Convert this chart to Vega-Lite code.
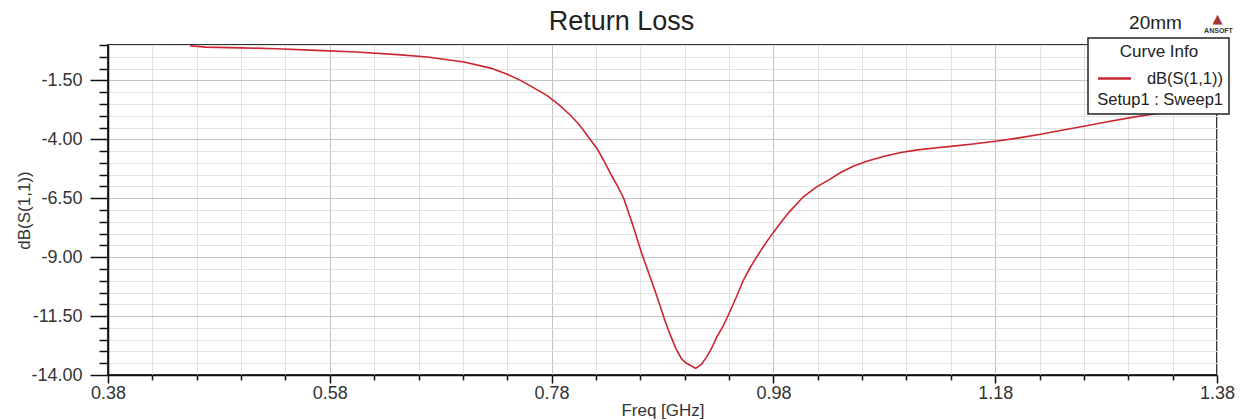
{
  "$schema": "https://vega.github.io/schema/vega-lite/v6.json",
  "width": 1109,
  "height": 330,
  "autosize": {"type": "none"},
  "padding": {"left": 108, "top": 45, "right": 25, "bottom": 45},
  "background": "white",
  "title": {"text": "Return Loss", "fontSize": 27, "font": "Liberation Sans", "fontWeight": "normal", "color": "#222", "anchor": "middle", "frame": "group", "dx": -41, "offset": 8, "dy": 32},
  "config": {
    "view": {"stroke": "#333", "strokeWidth": 2},
    "legend": {"strokeWidth": 1.5}
  },
  "resolve": {"axis": {"x": "independent", "y": "independent"}},
  "data": {"values": [
    {"freq": 0.454, "db": -0.03}, {"freq": 0.468, "db": -0.09}, {"freq": 0.500, "db": -0.12}, {"freq": 0.532, "db": -0.16},
    {"freq": 0.568, "db": -0.23}, {"freq": 0.604, "db": -0.30}, {"freq": 0.641, "db": -0.41}, {"freq": 0.668, "db": -0.51},
    {"freq": 0.701, "db": -0.72}, {"freq": 0.725, "db": -0.98}, {"freq": 0.740, "db": -1.24}, {"freq": 0.752, "db": -1.50},
    {"freq": 0.764, "db": -1.82}, {"freq": 0.776, "db": -2.15}, {"freq": 0.787, "db": -2.55}, {"freq": 0.797, "db": -2.98},
    {"freq": 0.805, "db": -3.38}, {"freq": 0.812, "db": -3.83}, {"freq": 0.821, "db": -4.40}, {"freq": 0.827, "db": -4.90},
    {"freq": 0.833, "db": -5.45}, {"freq": 0.839, "db": -5.95}, {"freq": 0.845, "db": -6.50}, {"freq": 0.853, "db": -7.60},
    {"freq": 0.861, "db": -8.80}, {"freq": 0.867, "db": -9.60}, {"freq": 0.872, "db": -10.26}, {"freq": 0.877, "db": -10.95},
    {"freq": 0.882, "db": -11.67}, {"freq": 0.887, "db": -12.30}, {"freq": 0.892, "db": -12.87}, {"freq": 0.897, "db": -13.30},
    {"freq": 0.901, "db": -13.48}, {"freq": 0.906, "db": -13.62}, {"freq": 0.910, "db": -13.72}, {"freq": 0.915, "db": -13.55},
    {"freq": 0.920, "db": -13.22}, {"freq": 0.925, "db": -12.80}, {"freq": 0.929, "db": -12.38}, {"freq": 0.935, "db": -11.90},
    {"freq": 0.940, "db": -11.39}, {"freq": 0.947, "db": -10.65}, {"freq": 0.953, "db": -9.97}, {"freq": 0.959, "db": -9.45},
    {"freq": 0.965, "db": -8.99}, {"freq": 0.971, "db": -8.55}, {"freq": 0.977, "db": -8.14}, {"freq": 0.986, "db": -7.57},
    {"freq": 0.994, "db": -7.10}, {"freq": 1.007, "db": -6.44}, {"freq": 1.019, "db": -6.02}, {"freq": 1.030, "db": -5.72},
    {"freq": 1.041, "db": -5.40}, {"freq": 1.053, "db": -5.12}, {"freq": 1.065, "db": -4.92}, {"freq": 1.080, "db": -4.72},
    {"freq": 1.095, "db": -4.56}, {"freq": 1.110, "db": -4.45}, {"freq": 1.125, "db": -4.37}, {"freq": 1.140, "db": -4.30},
    {"freq": 1.160, "db": -4.20}, {"freq": 1.182, "db": -4.07}, {"freq": 1.200, "db": -3.95}, {"freq": 1.221, "db": -3.79},
    {"freq": 1.240, "db": -3.62}, {"freq": 1.260, "db": -3.45}, {"freq": 1.280, "db": -3.27}, {"freq": 1.302, "db": -3.08},
    {"freq": 1.320, "db": -2.95}, {"freq": 1.341, "db": -2.80}, {"freq": 1.360, "db": -2.72}, {"freq": 1.380, "db": -2.62}
  ]},
  "layer": [
    {
      "mark": {"type": "line", "strokeWidth": 1.6, "clip": true},
      "encoding": {
        "x": {
          "field": "freq", "type": "quantitative",
          "scale": {"domain": [0.38, 1.38], "nice": false, "zero": false},
          "axis": {
            "orient": "bottom",
            "values": [0.38, 0.42, 0.46, 0.5, 0.54, 0.58, 0.62, 0.66, 0.7, 0.74, 0.78, 0.82, 0.86, 0.9, 0.94, 0.98, 1.02, 1.06, 1.1, 1.14, 1.18, 1.22, 1.26, 1.3, 1.34, 1.38],
            "title": "Freq [GHz]",
            "labelExpr": "abs((datum.value-0.38)/0.2 - round((datum.value-0.38)/0.2)) < 0.01 ? format(datum.value, '.2f') : ''",
            "labelFlush": false, "labelOverlap": false, "labelBound": false,
            "labelFontSize": 18, "labelFont": "Liberation Sans", "labelColor": "#333", "labelPadding": 1,
            "tickSize": {"condition": {"test": "abs((datum.value-0.38)/0.2 - round((datum.value-0.38)/0.2)) < 0.01", "value": 8}, "value": 5},
            "tickColor": "#111", "tickWidth": 1.5,
            "domainColor": "#111", "domainWidth": 1.5,
            "grid": true,
            "gridColor": {"condition": {"test": "abs((datum.value-0.38)/0.2 - round((datum.value-0.38)/0.2)) < 0.01", "value": "#c4c4c4"}, "value": "#e2e2e2"},
            "gridWidth": 1,
            "titleFontSize": 17, "titleFont": "Liberation Sans", "titleFontWeight": "normal", "titleColor": "#333",
            "titleY": 35, "titleBaseline": "middle"
          }
        },
        "y": {
          "field": "db", "type": "quantitative",
          "scale": {"domain": [-14, 0], "nice": false, "zero": false},
          "axis": {
            "orient": "left",
            "values": [-14, -13.5, -13, -12.5, -12, -11.5, -11, -10.5, -10, -9.5, -9, -8.5, -8, -7.5, -7, -6.5, -6, -5.5, -5, -4.5, -4, -3.5, -3, -2.5, -2, -1.5, -1, -0.5, 0],
            "title": "dB(S(1,1))",
            "labelExpr": "abs((datum.value+14)/2.5 - round((datum.value+14)/2.5)) < 0.01 ? ((datum.value < 0 ? '-' : '') + format(abs(datum.value), '.2f')) : ''",
            "labelFlush": false, "labelOverlap": false, "labelBound": false,
            "labelFontSize": 18, "labelFont": "Liberation Sans", "labelColor": "#333", "labelPadding": 8,
            "tickSize": {"condition": {"test": "abs((datum.value+14)/2.5 - round((datum.value+14)/2.5)) < 0.01", "value": 18}, "value": 9},
            "tickColor": "#111", "tickWidth": 1.5,
            "domainColor": "#111", "domainWidth": 1.5,
            "grid": true,
            "gridColor": {"condition": {"test": "abs((datum.value+14)/2.5 - round((datum.value+14)/2.5)) < 0.01", "value": "#c4c4c4"}, "value": "#e2e2e2"},
            "gridWidth": 1,
            "titleFontSize": 17, "titleFont": "Liberation Sans", "titleFontWeight": "normal", "titleColor": "#333",
            "titleX": -84, "titleY": 165, "titleAngle": -90, "titleAlign": "center", "titleBaseline": "middle"
          }
        },
        "color": {
          "datum": "dB(S(1,1))",
          "scale": {"domain": ["dB(S(1,1))", "Setup1 : Sweep1"], "range": ["#cc2530", "rgba(0,0,0,0)"]},
          "legend": {
            "orient": "none", "legendX": 980, "legendY": -7,
            "title": "Curve Info", "titleFontSize": 17, "titleFont": "Liberation Sans", "titleFontWeight": "normal", "titleColor": "#222", "titleAnchor": "middle", "titlePadding": 8,
            "labelFontSize": 16.5, "labelFont": "Liberation Sans", "labelColor": "#222", "labelAlign": "right", "labelOffset": 99, "labelLimit": 300,
            "symbolType": "M-2,0L2,0", "symbolSize": 272, "symbolStrokeWidth": 2.5, "symbolOffset": 11,
            "rowPadding": 3,
            "strokeColor": "#222", "fillColor": "white", "padding": 6
          }
        }
      }
    },
    {
      "mark": {"type": "point", "opacity": 0},
      "encoding": {
        "x": {"field": "freq", "type": "quantitative",
          "axis": {"orient": "top", "title": "20mm", "labels": false, "ticks": false, "domain": false, "grid": false,
            "titleFontSize": 19, "titleFont": "Liberation Sans", "titleFontWeight": "normal", "titleColor": "#222",
            "titleX": 1047, "titleY": -23, "titleAlign": "center", "titleBaseline": "middle", "titleAngle": 0}}
      }
    },
    {
      "mark": {"type": "point", "opacity": 0},
      "encoding": {
        "y": {"field": "db", "type": "quantitative",
          "axis": {"orient": "right", "title": "▲", "labels": false, "ticks": false, "domain": false, "grid": false,
            "titleFontSize": 13, "titleFont": "DejaVu Sans", "titleFontWeight": "normal", "titleColor": "#a83232",
            "titleX": 0, "titleY": -27, "titleAlign": "center", "titleBaseline": "middle", "titleAngle": 0}}
      }
    },
    {
      "mark": {"type": "point", "opacity": 0},
      "encoding": {
        "y": {"field": "db", "type": "quantitative",
          "axis": {"orient": "right", "title": "ANSOFT", "labels": false, "ticks": false, "domain": false, "grid": false,
            "titleFontSize": 7, "titleFont": "Liberation Sans", "titleFontWeight": "bold", "titleColor": "#333",
            "titleX": 1, "titleY": -15, "titleAlign": "center", "titleBaseline": "middle", "titleAngle": 0}}
      }
    }
  ]
}
